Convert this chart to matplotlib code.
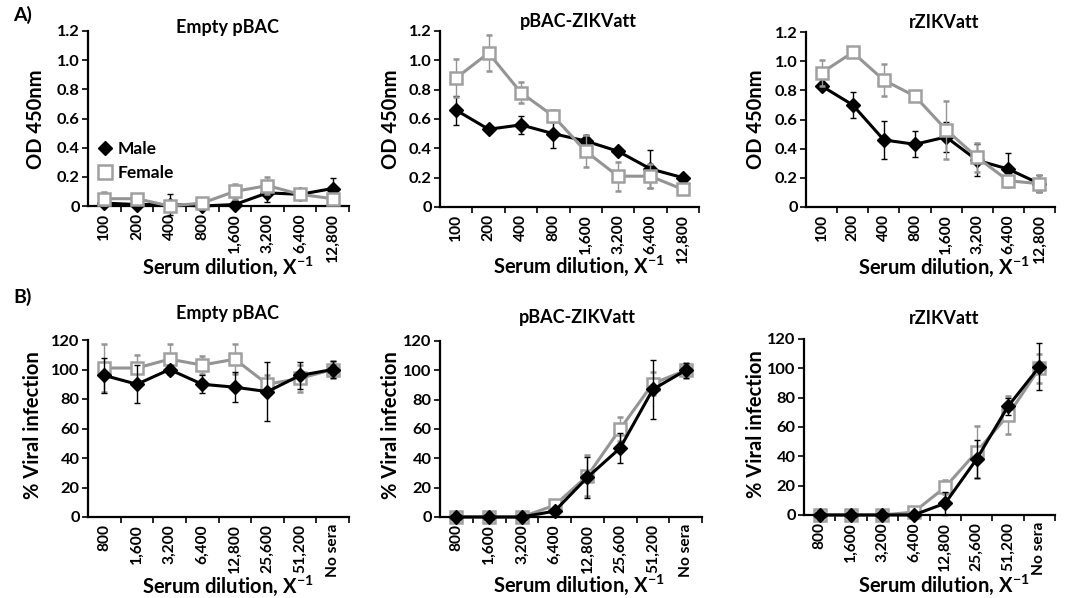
import numpy as np
import matplotlib
matplotlib.use("Agg")
import matplotlib.pyplot as plt
from matplotlib.lines import Line2D

plt.rcParams['font.family'] = ['Lato', 'DejaVu Sans']
plt.rcParams['font.weight'] = 'bold'
plt.rcParams['mathtext.fontset'] = 'custom'
plt.rcParams['mathtext.rm'] = 'Lato:bold'
plt.rcParams['mathtext.bf'] = 'Lato:bold'

# ---------------- data ----------------
a_dilutions = ["100", "200", "400", "800", "1,600", "3,200", "6,400", "12,800"]
b_dilutions = ["800", "1,600", "3,200", "6,400", "12,800", "25,600", "51,200", "No sera"]
titles = ["Empty pBAC", "pBAC-ZIKVatt", "rZIKVatt"]

# Panel A: OD 450nm
a_empty_male = [0.02, 0.01, 0.01, 0.00, 0.01, 0.09, 0.08, 0.12]
a_empty_male_err = [0.02, 0.01, 0.07, 0.01, 0.02, 0.06, 0.02, 0.07]
a_empty_female = [0.05, 0.05, 0.00, 0.02, 0.10, 0.14, 0.08, 0.05]
a_empty_female_err = [0.045, 0.02, 0.01, 0.01, 0.05, 0.06, 0.02, 0.01]

a_pbac_male = [0.66, 0.53, 0.56, 0.50, 0.45, 0.38, 0.26, 0.20]
a_pbac_male_err = [0.10, 0.02, 0.06, 0.10, 0.04, 0.02, 0.13, 0.02]
a_pbac_female = [0.88, 1.05, 0.78, 0.62, 0.38, 0.21, 0.21, 0.12]
a_pbac_female_err = [0.13, 0.12, 0.07, 0.04, 0.11, 0.10, 0.08, 0.01]

a_rzik_male = [0.83, 0.70, 0.46, 0.43, 0.48, 0.32, 0.26, 0.16]
a_rzik_male_err = [0.02, 0.09, 0.13, 0.09, 0.10, 0.11, 0.11, 0.06]
a_rzik_female = [0.92, 1.06, 0.87, 0.76, 0.53, 0.34, 0.18, 0.16]
a_rzik_female_err = [0.09, 0.02, 0.11, 0.02, 0.20, 0.10, 0.04, 0.06]

# Panel B: % viral infection
b_empty_male = [96, 90, 100, 90, 88, 85, 96, 100]
b_empty_male_err = [12, 13, 3, 6, 10, 20, 9, 6]
b_empty_female = [101, 101, 107, 103, 107, 90, 94, 100]
b_empty_female_err = [16, 9, 10, 6, 10, 6, 9, 6]

b_pbac_male = [0, 0, 0, 4, 27, 47, 87, 100]
b_pbac_male_err = [0, 0, 0, 2, 14, 10, 20, 5]
b_pbac_female = [0, 0, 0, 8, 28, 60, 91, 100]
b_pbac_female_err = [0, 0, 0, 2, 14, 8, 8, 5]

b_rzik_male = [0, 0, 0, 0, 8, 38, 74, 101]
b_rzik_male_err = [0, 0, 0, 0, 8, 13, 6, 16]
b_rzik_female = [0, 0, 0, 2, 19, 43, 68, 100]
b_rzik_female_err = [0, 0, 0, 1, 5, 18, 13, 10]

# ---------------- figure ----------------
W, H = 1072, 598
fig = plt.figure(figsize=(W / 100, H / 100), dpi=100)

def px_axes(l, r, t, b):
    return fig.add_axes([l / W, 1 - b / H, (r - l) / W, (b - t) / H])

def fx(x):
    return x / W

def fy(y):
    return 1 - y / H

MALE_C = "black"
FEM_C = "#949494"
FEM_EDGE = "#a0a0a0"
TICK_FS = 11.2

def draw(ax, labels, male, male_err, fem, fem_err, ymax, yticks, yticklabels, female_top):
    x = np.arange(len(labels))
    zf, zm = (3, 2) if female_top else (2, 3)
    ax.errorbar(x, male, yerr=male_err, color=MALE_C, lw=2.2, marker='D', ms=7.5,
                mfc=MALE_C, mec=MALE_C, ecolor=MALE_C, elinewidth=1.0,
                capsize=2.5, capthick=1.0, zorder=zm, clip_on=False)
    ax.errorbar(x, fem, yerr=fem_err, color=FEM_C, lw=2.2, marker='s', ms=9,
                mfc='white', mec=FEM_EDGE, mew=1.8, ecolor=FEM_C, elinewidth=1.0,
                capsize=2.5, capthick=1.0, zorder=zf, clip_on=False)
    ax.set_xlim(-0.5, len(labels) - 0.5)
    ax.set_ylim(0, ymax)
    ax.set_yticks(yticks)
    ax.set_yticklabels(yticklabels, fontsize=TICK_FS + 0.6, fontweight='bold')
    ax.set_xticks(np.arange(len(labels)) + 0.5)
    ax.set_xticklabels([])
    ax.set_xticks(x, minor=True)
    ax.set_xticklabels(labels, minor=True, rotation=90, fontsize=TICK_FS, fontweight='bold')
    ax.tick_params(axis='x', which='major', direction='out', length=4, width=1.2)
    ax.tick_params(axis='x', which='minor', length=0, pad=5)
    ax.tick_params(axis='y', direction='out', length=4, width=1.2, pad=2)
    for s in ['top', 'right']:
        ax.spines[s].set_visible(False)
    for s in ['left', 'bottom']:
        ax.spines[s].set_linewidth(1.6)
        ax.spines[s].set_color('black')

a_yt = [0, 0.2, 0.4, 0.6, 0.8, 1.0, 1.2]
a_ytl = ["0", "0.2", "0.4", "0.6", "0.8", "1.0", "1.2"]
b_yt = [0, 20, 40, 60, 80, 100, 120]
b_ytl = [str(v) for v in b_yt]

a_boxes = [(88, 349, 31, 206), (440, 699, 31, 207), (806, 1055, 32, 207)]
b_boxes = [(88, 349, 340, 517), (440, 702, 341, 517), (804, 1055, 339, 515)]

a_data = [(a_empty_male, a_empty_male_err, a_empty_female, a_empty_female_err),
          (a_pbac_male, a_pbac_male_err, a_pbac_female, a_pbac_female_err),
          (a_rzik_male, a_rzik_male_err, a_rzik_female, a_rzik_female_err)]
b_data = [(b_empty_male, b_empty_male_err, b_empty_female, b_empty_female_err),
          (b_pbac_male, b_pbac_male_err, b_pbac_female, b_pbac_female_err),
          (b_rzik_male, b_rzik_male_err, b_rzik_female, b_rzik_female_err)]

a_axes = []
for box, d in zip(a_boxes, a_data):
    ax = px_axes(*box)
    draw(ax, a_dilutions, *d, 1.2, a_yt, a_ytl, True)
    a_axes.append(ax)
b_axes = []
for box, d in zip(b_boxes, b_data):
    ax = px_axes(*box)
    draw(ax, b_dilutions, *d, 120, b_yt, b_ytl, False)
    b_axes.append(ax)

# titles
a_title_pos = [(228, 27), (578, 22), (944, 22)]
b_title_pos = [(228, 314), (577, 317), (944, 318)]
for t, (x, y) in zip(titles, a_title_pos):
    fig.text(fx(x), fy(y), t, ha='center', va='center', fontsize=13, fontweight='bold')
for t, (x, y) in zip(titles, b_title_pos):
    fig.text(fx(x), fy(y), t, ha='center', va='center', fontsize=13, fontweight='bold')

# axis labels
xlab = r"Serum dilution, X$^{\mathbf{-1}}$"
for (x, y) in [(228, 267), (579, 266), (944, 267)]:
    fig.text(fx(x), fy(y), xlab, ha='center', va='center', fontsize=14.5, fontweight='bold')
for (x, y) in [(228, 586), (579, 585), (944, 585)]:
    fig.text(fx(x), fy(y), xlab, ha='center', va='center', fontsize=14.5, fontweight='bold')
for (x, y) in [(36, 119), (391, 119), (756, 119)]:
    fig.text(fx(x), fy(y), "OD 450nm", ha='center', va='center', rotation=90,
             fontsize=14.5, fontweight='bold')
for (x, y) in [(33, 425), (391, 425), (756, 424)]:
    fig.text(fx(x), fy(y), "% Viral infection", ha='center', va='center', rotation=90,
             fontsize=14.5, fontweight='bold')

# panel letters
fig.text(fx(13), fy(15), "A)", ha='left', va='center', fontsize=14, fontweight='bold')
fig.text(fx(13), fy(297), "B)", ha='left', va='center', fontsize=14, fontweight='bold')

# legend
handles = [Line2D([], [], ls='none', marker='D', ms=7.5, mfc=MALE_C, mec=MALE_C),
           Line2D([], [], ls='none', marker='s', ms=10, mfc='white', mec=FEM_EDGE, mew=1.8)]
a_axes[0].legend(handles, ["Male", "Female"], loc='upper left',
                 bbox_to_anchor=(0.0, 0.43), frameon=False, handlelength=0.8,
                 handletextpad=0.3, borderaxespad=0.2, labelspacing=0.45,
                 prop={'size': 12.5, 'weight': 'bold'})

fig.savefig("out.png", dpi=100)
